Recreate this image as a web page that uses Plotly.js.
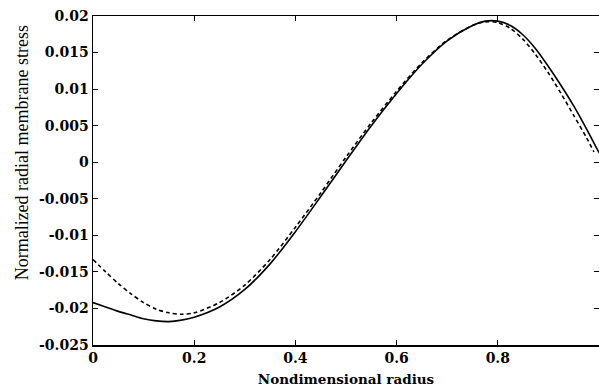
<!DOCTYPE html>
<html>
<head>
<meta charset="utf-8">
<script src="https://cdn.plot.ly/plotly-3.0.1.min.js"></script>
<style>
html, body { margin: 0; padding: 0; background: #fff; }
#chart { width: 599px; height: 392px; }
</style>
</head>
<body>
<div id="chart"></div>
<script>
// Data
const solidX = [0, 0.025, 0.05, 0.075, 0.10, 0.125, 0.15, 0.175, 0.20, 0.25, 0.30, 0.35, 0.40, 0.45, 0.50, 0.55, 0.60, 0.65, 0.70, 0.75, 0.775, 0.80, 0.825, 0.85, 0.875, 0.90, 0.925, 0.95, 0.975, 1.0];
const solidY = [-0.0192, -0.0198, -0.0204, -0.0209, -0.0214, -0.0217, -0.0218, -0.0216, -0.0212, -0.0198, -0.0174, -0.0139, -0.0095, -0.0047, 0.0002, 0.0050, 0.0094, 0.0134, 0.0166, 0.0187, 0.0193, 0.0193, 0.0187, 0.0174, 0.0155, 0.0131, 0.0105, 0.0077, 0.0046, 0.0013];

const dashX = [0, 0.025, 0.05, 0.075, 0.10, 0.125, 0.15, 0.175, 0.20, 0.25, 0.30, 0.35, 0.40, 0.45, 0.50, 0.55, 0.60, 0.65, 0.70, 0.75, 0.775, 0.80, 0.825, 0.85, 0.875, 0.90, 0.925, 0.95, 0.975, 0.99];
const dashY = [-0.0133, -0.0150, -0.0166, -0.0180, -0.0192, -0.0201, -0.0206, -0.0208, -0.0206, -0.0192, -0.0168, -0.0133, -0.0089, -0.0042, 0.0007, 0.0054, 0.0097, 0.0136, 0.0167, 0.0187, 0.0192, 0.0191, 0.0183, 0.0168, 0.0147, 0.0122, 0.0094, 0.0064, 0.0034, 0.0014];

const xTickVals = [0, 0.2, 0.4, 0.6, 0.8, 1];
const xTickText = ["0", "0.2", "0.4", "0.6", "0.8", "1"];
const yTickVals = [0.02, 0.015, 0.01, 0.005, 0, -0.005, -0.01, -0.015, -0.02, -0.025];
const yTickText = ["0.02", "0.015", "0.01", "0.005", "0", "-0.005", "-0.01", "-0.015", "-0.02", "-0.025"];

const xTitle = "Nondimensional radius";
const yTitle = "Normalized radial membrane stress";

const tickFont = { family: "DejaVu Serif", size: 14, color: "#000", weight: "bold" };

const traces = [
  { x: solidX, y: solidY, mode: "lines", line: { color: "#000", width: 1.6, shape: "spline", smoothing: 0.8 }, showlegend: false },
  { x: dashX, y: dashY, mode: "lines", line: { color: "#000", width: 1.6, dash: "4px,3px", shape: "spline", smoothing: 0.8 }, showlegend: false }
];

const layout = {
  width: 599, height: 392,
  margin: { l: 93, r: 0, t: 16, b: 47 },
  paper_bgcolor: "#fff", plot_bgcolor: "#fff",
  showlegend: false,
  xaxis: {
    range: [0, 1],
    tickvals: xTickVals, ticktext: xTickText,
    ticks: "inside", ticklen: 5, tickwidth: 1, tickcolor: "#000",
    showline: true, linecolor: "#000", linewidth: 1.5, mirror: "ticks",
    showgrid: false, zeroline: false,
    tickfont: tickFont,
    title: { text: xTitle, font: { family: "DejaVu Serif", size: 13.5, color: "#000", weight: "bold" }, standoff: 9 }
  },
  yaxis: {
    range: [-0.025, 0.02],
    tickvals: yTickVals, ticktext: yTickText,
    ticks: "inside", ticklen: 5, tickwidth: 1, tickcolor: "#000",
    showline: true, linecolor: "#000", linewidth: 1.5, mirror: "ticks",
    showgrid: false, zeroline: false,
    tickfont: tickFont
  },
  annotations: [
    { text: yTitle, xref: "paper", yref: "paper", x: -0.140, y: 0.583,
      xanchor: "center", yanchor: "middle", textangle: -90, showarrow: false,
      font: { family: "Liberation Serif", size: 18, color: "#000" } }
  ]
};

Plotly.newPlot("chart", traces, layout, { staticPlot: true, displayModeBar: false });
</script>
</body>
</html>
